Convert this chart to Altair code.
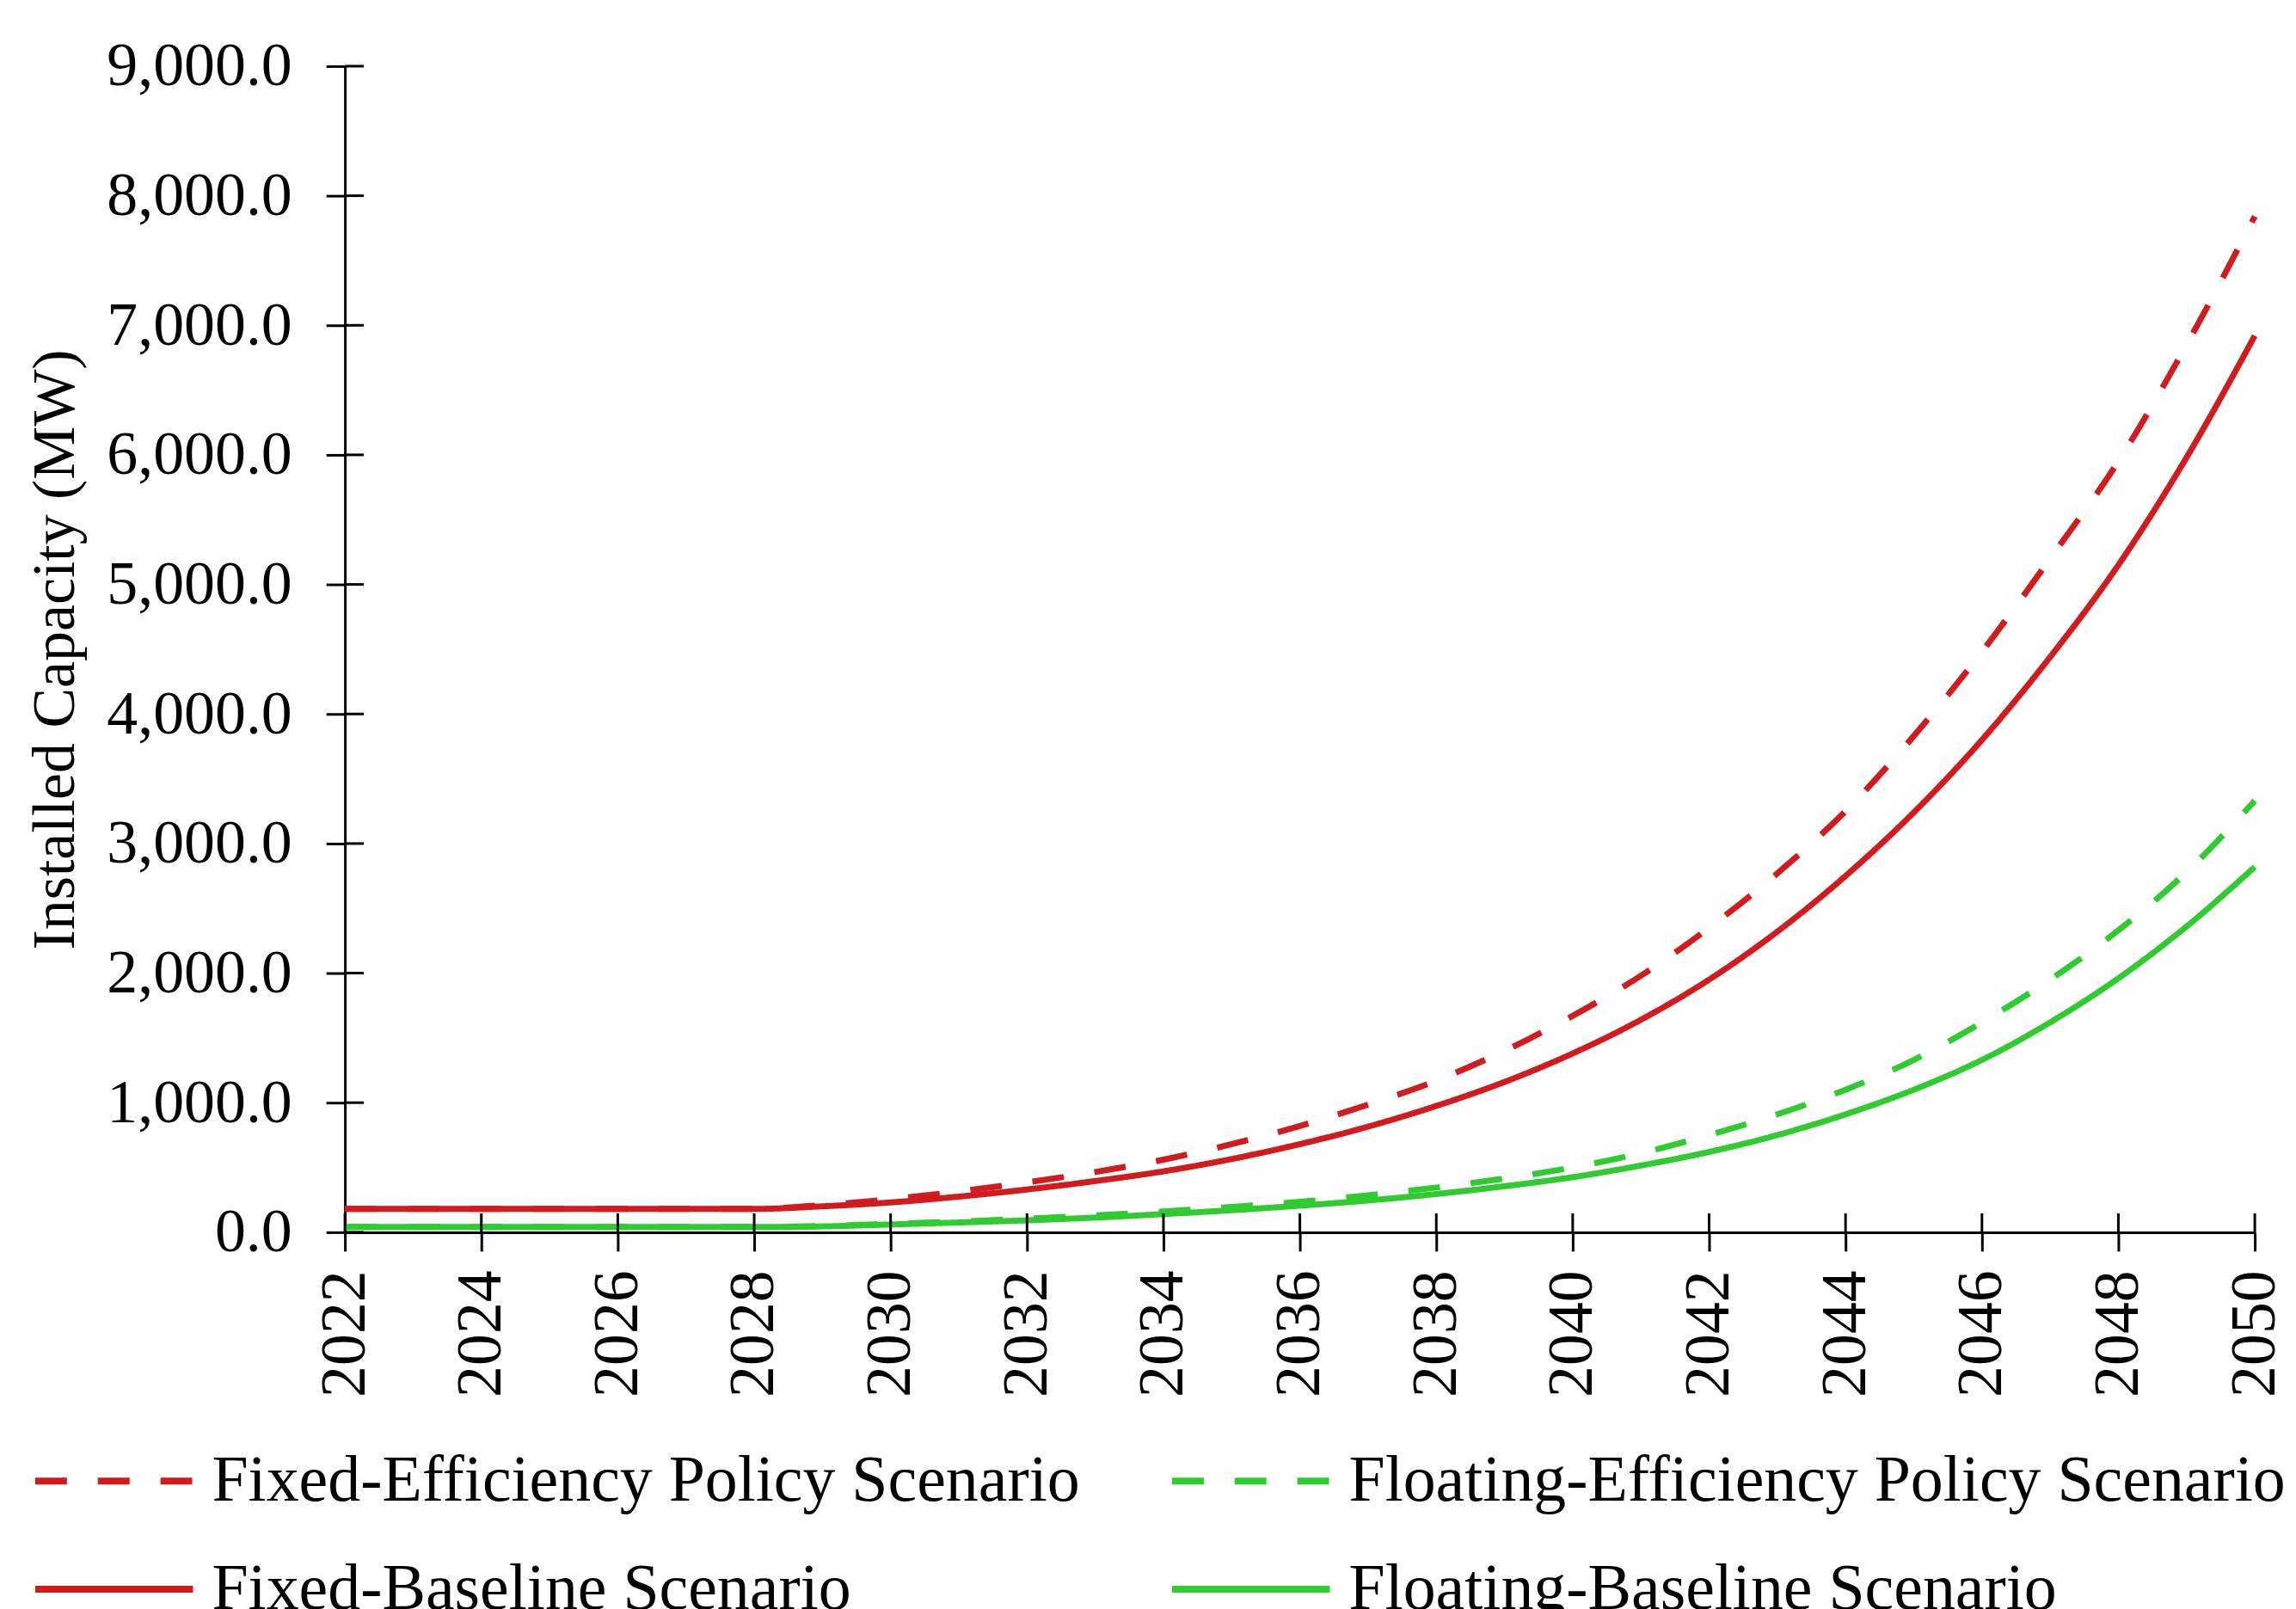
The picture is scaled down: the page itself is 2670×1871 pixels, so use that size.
import altair as alt
import pandas as pd

years = list(range(2022, 2051))
fixed_policy = [180, 180, 180, 180, 180, 180, 180, 210, 255, 315, 385, 465, 560, 680, 820, 985,
                1170, 1400, 1670, 1980, 2350, 2770, 3250, 3830, 4480, 5200, 5950, 6850, 7840]
floating_policy = [40, 40, 40, 40, 40, 40, 40, 48, 65, 82, 105, 130, 160, 195, 235, 285,
                   345, 415, 500, 610, 750, 910, 1100, 1330, 1620, 1950, 2330, 2780, 3330]
fixed_base = [180, 180, 180, 180, 180, 180, 180, 200, 230, 275, 330, 395, 470, 565, 680, 815,
              975, 1160, 1380, 1640, 1950, 2320, 2750, 3240, 3800, 4440, 5150, 5980, 6920]
floating_base = [40, 40, 40, 40, 40, 40, 40, 45, 60, 75, 92, 113, 140, 170, 205, 245,
                 295, 355, 425, 515, 620, 750, 910, 1100, 1330, 1620, 1960, 2360, 2820]

series_names = ["Fixed-Efficiency Policy Scenario", "Floating-Efficiency Policy Scenario",
                "Fixed-Baseline Scenario", "Floating-Baseline Scenario"]
series_values = [fixed_policy, floating_policy, fixed_base, floating_base]
series_colors = ["#D01C1F", "#30CB30", "#D01C1F", "#30CB30"]
series_dash = [[37, 36], [37, 36], [1, 0], [1, 0]]

x_ticks = list(range(2022, 2051, 2))
y_ticks = [0, 1000, 2000, 3000, 4000, 5000, 6000, 7000, 8000, 9000]

rows = []
for name, vals in zip(series_names, series_values):
    for yr, v in zip(years, vals):
        rows.append({"Year": yr, "Value": v, "Series": name})
df = pd.DataFrame(rows)

W, H = 2226, 1359
FONT = "Liberation Serif"

xscale = alt.Scale(domain=[2022, 2050], nice=False, zero=False)
yscale = alt.Scale(domain=[0, 9000], nice=False)

xaxis = alt.Axis(
    values=x_ticks, format="d", labelAngle=270, title=None,
    labelFont=FONT, labelFontSize=74, labelColor="black", labelLimit=1000,
    tickSize=22, tickWidth=3, tickColor="black",
    domainColor="black", domainWidth=3, labelPadding=22, grid=False)
yaxis = alt.Axis(
    values=y_ticks, format=",.1f", title="Installed Capacity (MW)",
    titleFont=FONT, titleFontSize=70, titleFontWeight="normal", titleColor="black",
    titleX=-337, titleBaseline="middle", titleAlign="center", titleAngle=270,
    titleLimit=2000,
    labelFont=FONT, labelFontSize=72, labelColor="black", labelLimit=1000,
    tickSize=22, tickWidth=3, tickColor="black",
    domainColor="black", domainWidth=3, labelPadding=40, grid=False)

legend = alt.Legend(
    orient="none", legendX=-365, legendY=1561, columns=2, columnPadding=91,
    direction="horizontal",
    title=None, symbolType="M-1.095,0H1.095", symbolSize=28224, symbolStrokeWidth=8,
    symbolOffset=8,
    labelFont=FONT, labelFontSize=76, labelColor="black", labelOffset=26,
    rowPadding=0, labelLimit=2000,
)

lines = alt.Chart(df).mark_line(strokeWidth=7, interpolate="monotone").encode(
    x=alt.X("Year:Q", scale=xscale, axis=xaxis),
    y=alt.Y("Value:Q", scale=yscale, axis=yaxis),
    color=alt.Color("Series:N", scale=alt.Scale(domain=series_names, range=series_colors),
                    legend=legend),
    strokeDash=alt.StrokeDash("Series:N", scale=alt.Scale(domain=series_names, range=series_dash),
                              legend=legend),
)

ytick_df = pd.DataFrame({"Value": y_ticks})
xtick_df = pd.DataFrame({"Year": x_ticks})

ytick_in = alt.Chart(ytick_df).mark_rule(color="black", strokeWidth=3).encode(
    y=alt.Y("Value:Q", scale=yscale, axis=yaxis),
    x=alt.value(0), x2=alt.value(22),
)
xtick_in = alt.Chart(xtick_df).mark_rule(color="black", strokeWidth=3).encode(
    x=alt.X("Year:Q", scale=xscale, axis=xaxis),
    y=alt.value(H), y2=alt.value(H - 22),
)

chart = alt.layer(lines, ytick_in, xtick_in).properties(
    width=W, height=H,
    autosize=alt.AutoSizeParams(type="none"),
    padding={"left": 394, "top": 67, "right": 40, "bottom": 437},
    background="white",
).configure_view(stroke=None)

chart.save("out.html", embed_options={"renderer": "svg", "actions": False})
